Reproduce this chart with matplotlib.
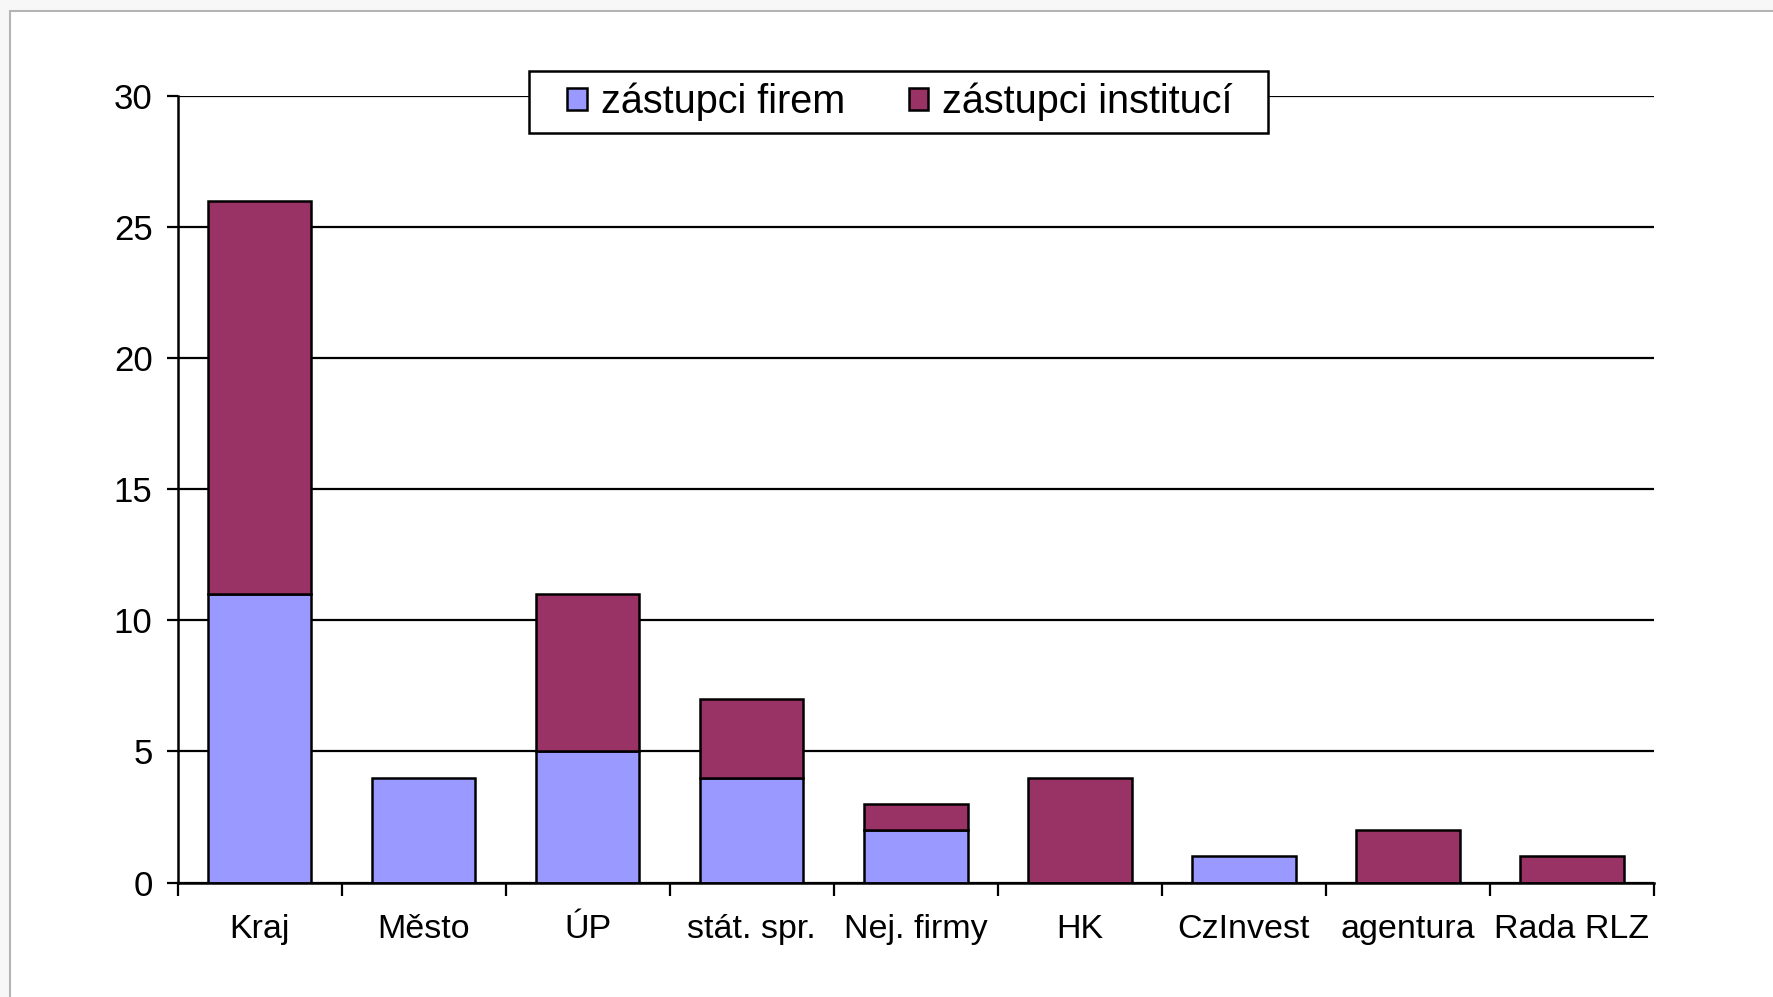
import matplotlib
matplotlib.use("Agg")
import matplotlib.pyplot as plt
from matplotlib.patches import Rectangle
import numpy as np

plt.rcParams['font.family'] = ['Liberation Sans', 'DejaVu Sans']

categories = ["Kraj", "Město", "ÚP", "stát. spr.", "Nej. firmy", "HK", "CzInvest", "agentura", "Rada RLZ"]
firem = [11, 4, 5, 4, 2, 0, 1, 0, 0]
instituci = [15, 0, 6, 3, 1, 4, 0, 2, 1]
yticks = [0, 5, 10, 15, 20, 25, 30]

fig = plt.figure(figsize=(17.74, 9.97), dpi=100, facecolor="#f7f7f7")
# white page with grey border
fig.patches.append(Rectangle((10 / 1774, -0.01), 1.0, (997 - 11) / 997 + 0.01,
                             transform=fig.transFigure, facecolor="white",
                             edgecolor="#b4b4b4", linewidth=1.5, zorder=-10))

ax = fig.add_axes([0.1001, 0.1148, 0.8323, 0.7889])
ax.set_facecolor("white")

x = np.arange(len(categories))
firem = np.array(firem)
instituci = np.array(instituci)

# draw only nonzero segments so empty ones do not leave outlines
mask_f = firem > 0
mask_i = instituci > 0
ax.bar(x[mask_f], firem[mask_f], width=0.63, color="#9999FF", edgecolor="black",
       linewidth=1.8, zorder=3, label="zástupci firem")
ax.bar(x[mask_i], instituci[mask_i], width=0.63, bottom=firem[mask_i], color="#993366",
       edgecolor="black", linewidth=1.8, zorder=3, label="zástupci institucí")

ax.set_xlim(-0.5, len(categories) - 0.5)
ax.set_ylim(0, 30)
ax.set_yticks(yticks)
ax.yaxis.grid(True, color="black", linewidth=1.6, zorder=1)
ax.set_axisbelow(True)

ax.set_xticks(x)
ax.set_xticklabels(categories, fontsize=24.5)
ax.set_xticks(np.arange(-0.5, len(categories), 1.0), minor=True)
ax.tick_params(axis="x", which="major", length=0, pad=23)
ax.tick_params(axis="x", which="minor", length=9, width=1.6, direction="out")
ax.tick_params(axis="y", labelsize=25, length=8, width=1.6, pad=10)

for s in ["top", "right"]:
    ax.spines[s].set_visible(False)
for s in ["left", "bottom"]:
    ax.spines[s].set_linewidth(1.8)
    ax.spines[s].set_zorder(4)

leg = ax.legend(loc="center", bbox_to_anchor=(900 / 1774, (997 - 102) / 997),
                bbox_transform=fig.transFigure, ncol=2, fontsize=28.5,
                frameon=False, handlelength=0.5, handleheight=0.5,
                handletextpad=0.35, columnspacing=1.6, borderpad=0.3)
leg.set_zorder(6)

# legend box with wider side padding than matplotlib gives
fig.canvas.draw()
bb = leg.get_window_extent()
pad_l, pad_r = 26, 23
box = Rectangle((bb.x0 - pad_l, bb.y0), bb.width + pad_l + pad_r, bb.height,
                transform=None, facecolor="white", edgecolor="black",
                linewidth=1.8, zorder=5, clip_on=False)
ax.add_artist(box)

fig.savefig("out.png", dpi=100, facecolor=fig.get_facecolor())
